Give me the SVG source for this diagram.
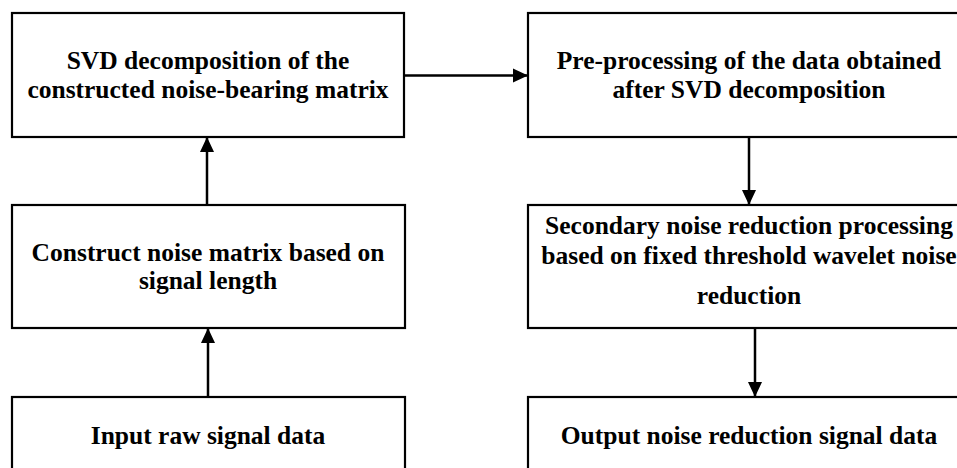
<svg xmlns="http://www.w3.org/2000/svg" width="957" height="468" viewBox="0 0 957 468">
<defs>
<marker id="ah" markerUnits="userSpaceOnUse" markerWidth="16" markerHeight="16" viewBox="0 0 16 16" refX="15" refY="8" orient="auto">
<path d="M0,1 L15,8 L0,15 Z" fill="#000"/>
</marker>
<style>
.box{fill:#fff;stroke:#000;stroke-width:2.2}
.t{font-family:"Liberation Serif","Times New Roman",serif;font-weight:bold;font-size:25.5px;text-anchor:middle;fill:#000}
.c{stroke:#000;stroke-width:2.5;fill:none;marker-end:url(#ah)}
</style>
</defs>
<rect width="957" height="468" fill="#fff"/>
<g id="n1">
<rect class="box" x="12" y="13" width="392" height="124"/>
<text class="t" x="208" y="69">SVD decomposition of the</text>
<text class="t" x="208" y="98">constructed noise-bearing matrix</text>
</g>
<g id="n2">
<rect class="box" x="528" y="13" width="442" height="124"/>
<text class="t" x="749" y="69">Pre-processing of the data obtained</text>
<text class="t" x="749" y="98">after SVD decomposition</text>
</g>
<g id="n3">
<rect class="box" x="12" y="205" width="393" height="123"/>
<text class="t" x="208" y="261">Construct noise matrix based on</text>
<text class="t" x="208" y="289">signal length</text>
</g>
<g id="n4">
<rect class="box" x="528" y="205" width="442" height="123"/>
<text class="t" x="749" y="234">Secondary noise reduction processing</text>
<text class="t" x="749" y="264">based on fixed threshold wavelet noise</text>
<text class="t" x="749" y="304">reduction</text>
</g>
<g id="n5">
<rect class="box" x="12" y="397" width="393" height="90"/>
<text class="t" x="208" y="444">Input raw signal data</text>
</g>
<g id="n6">
<rect class="box" x="528" y="397" width="442" height="90"/>
<text class="t" x="749" y="444">Output noise reduction signal data</text>
</g>
<g id="connectors">
<line class="c" x1="404" y1="75.5" x2="528" y2="75.5"/>
<line class="c" x1="749" y1="137" x2="749" y2="205"/>
<line class="c" x1="755" y1="328" x2="755" y2="397"/>
<line class="c" x1="207" y1="205" x2="207" y2="137"/>
<line class="c" x1="208" y1="397" x2="208" y2="328"/>
</g>
</svg>
